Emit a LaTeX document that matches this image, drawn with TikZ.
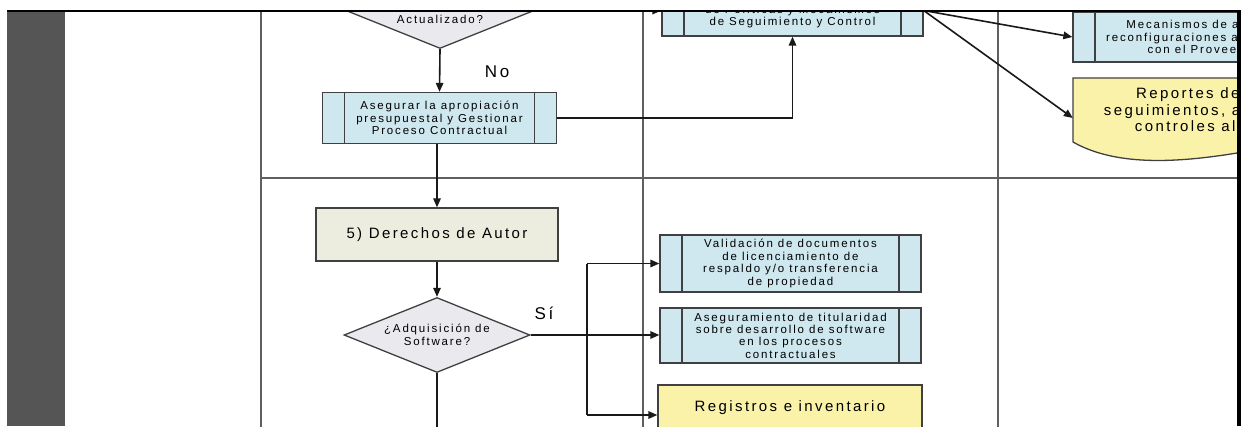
\documentclass[tikz,border=0pt]{standalone}
\usepackage{fontspec}
\setmainfont{Liberation Sans}
\newfontfamily\boxfont{Liberation Sans}[LetterSpace=16]
\usetikzlibrary{shapes.geometric,arrows.meta}
\newcommand\smallfnt{\boxfont\fontsize{11.5}{12.4}\selectfont}
\newcommand\bigfnt{\boxfont\fontsize{15}{16.5}\selectfont}
\definecolor{procblue}{HTML}{CFE7EE}
\definecolor{docyellow}{HTML}{FBF2AA}
\definecolor{taskbeige}{HTML}{EDEDDF}
\definecolor{decgray}{HTML}{E9E9EE}
\definecolor{lanegray}{HTML}{5F5F5F}
\definecolor{bargray}{HTML}{555555}
\tikzset{
  conn/.style={draw=black!90, line width=1.6pt},
  arr/.style={conn, -{Triangle[length=9pt,width=7.5pt]}},
  lane/.style={draw=lanegray, line width=1.8pt},
  proc/.style={draw=black!75, line width=1.3pt, fill=procblue, inner sep=0pt,
    align=center, font=\smallfnt,
    path picture={\draw[black!75,line width=1.3pt]
      ([xshift=22pt]path picture bounding box.north west) -- ([xshift=22pt]path picture bounding box.south west)
      ([xshift=-22pt]path picture bounding box.north east) -- ([xshift=-22pt]path picture bounding box.south east);}},
  dec/.style={diamond, draw=black!75, line width=1.3pt, fill=decgray, aspect=2.48,
    minimum width=186pt, minimum height=75pt, inner sep=0pt, align=center, font=\smallfnt},
  task/.style={draw=black!75, line width=1.3pt, fill=taskbeige, inner sep=0pt, align=center, font=\bigfnt},
  docbox/.style={draw=black!75, line width=1.3pt, fill=docyellow, inner sep=0pt, align=center, font=\bigfnt},
  doctext/.style={inner sep=0pt, align=center, font=\bigfnt},
  lbl/.style={inner sep=0pt, font=\boxfont\fontsize{17}{18}\selectfont}
}
\begin{document}
\begin{tikzpicture}[x=1pt,y=-1pt]
\useasboundingbox (0,0) rectangle (1241,426);
\fill[white] (0,0) rectangle (1241,426);
\begin{scope}
\clip (65,11) rectangle (1237,426);
% lanes
\draw[lane] (261,0) -- (261,430);
\draw[lane] (643,0) -- (643,430);
\draw[lane] (998,0) -- (998,430);
\draw[lane] (261,178) -- (1237,178);
% document shape (Reportes)
\filldraw[fill=docyellow, draw=black!75, line width=1.3pt]
  (1073,78) -- (1333,78) -- (1333,135) .. controls (1250,150) and (1140,180) .. (1073,142) -- cycle;
% nodes
\node[dec] (d1) at (440,11) {\mbox{}\\Archivo\\Actualizado?};
\node[proc, minimum width=234pt, minimum height=51pt] (a1) at (439.5,118)
  {Asegurar la apropiación\\presupuestal y Gestionar\\Proceso Contractual};
\node[proc, minimum width=261pt, minimum height=51pt] (p1) at (792.5,10.5)
  {Actualización\\de Políticas y Mecanismos\\de Seguimiento y Control};
\node[proc, minimum width=260pt, minimum height=50pt] (m1) at (1203,37)
  {Mecanismos de ajustes\\reconfiguraciones acordadas\\con el Proveedor};
\node[doctext, minimum width=260pt, minimum height=64pt] (r1) at (1203,110)
  {Reportes de los\\seguimientos, avances\\controles al uso};
\node[task, minimum width=242pt, minimum height=53pt] (t5) at (437,234.5) {5) Derechos de Autor};
\node[dec] (d2) at (437,335) {¿Adquisición de\\Software?};
\node[proc, minimum width=261pt, minimum height=57pt] (v1) at (790.5,263.5)
  {Validación de documentos\\de licenciamiento de\\respaldo y/o transferencia\\de propiedad};
\node[proc, minimum width=261pt, minimum height=55pt] (s1) at (790.5,335.5)
  {Aseguramiento de titularidad\\sobre desarrollo de software\\en los procesos\\contractuales};
\node[docbox, minimum width=264pt, minimum height=46pt] (g1) at (790,408) {Registros e inventario};
% labels
\node[lbl] (no) at (497,72) {No};
\node[lbl] (si) at (544,313) {Sí};
% connectors
\coordinate (b0) at (587,263.5);
\coordinate (b1) at (587,415);
\coordinate (bend) at (437,430);
\draw[arr] (d1.south) -- (a1.north);
\draw[arr] (d1.east) -- (p1.west);
\draw[arr] (a1.east) -| (p1.south);
\draw[arr] (p1.east) -- (m1.west);
\draw[arr] (p1.east) -- ([yshift=-8pt]r1.west);
\draw[arr] (a1.south -| t5.north) -- (t5.north);
\draw[arr] (t5.south) -- (d2.north);
\draw[arr] (d2.east) -- (d2.east -| s1.west);
\draw[conn] (b0) -- (b1);
\draw[arr] (b0) -- (b0 -| v1.west);
\draw[arr] (b1) -- (b1 -| g1.west);
\draw[conn] (d2.south) -- (bend);
\end{scope}
% frame
\fill[bargray] (7,11) rectangle (65,426);
\fill[black] (7,9.8) rectangle (1241,12.4);
\fill[black] (1237,11) rectangle (1241,426);
\end{tikzpicture}
\end{document}
